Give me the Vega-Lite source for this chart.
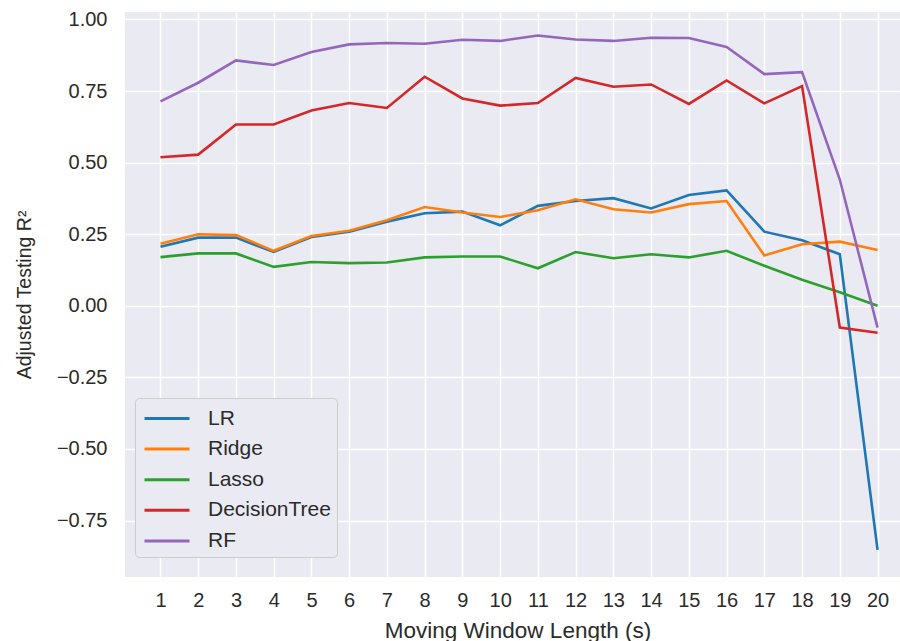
{
  "$schema": "https://vega.github.io/schema/vega-lite/v6.json",
  "autosize": {"type": "none"},
  "width": 775,
  "height": 565,
  "padding": {"left": 125, "top": 12, "right": 0, "bottom": 64},
  "background": "white",
  "config": {
    "view": {"fill": "#eaeaf2", "stroke": null},
    "font": "Liberation Sans",
    "axis": {
      "domain": false,
      "ticks": false,
      "grid": true,
      "gridColor": "white",
      "gridWidth": 1.5,
      "labelFont": "Liberation Sans",
      "labelFontSize": 20,
      "labelColor": "#2b2b2b",
      "titleFont": "Liberation Sans",
      "titleFontWeight": "normal",
      "titleColor": "#2b2b2b"
    },
    "legend": {
      "labelFont": "Liberation Sans",
      "labelFontSize": 21,
      "labelColor": "#2b2b2b"
    }
  },
  "data": {
    "values": [
      {"w": 1, "model": "LR", "r2": 0.206},
      {"w": 2, "model": "LR", "r2": 0.238},
      {"w": 3, "model": "LR", "r2": 0.238},
      {"w": 4, "model": "LR", "r2": 0.188},
      {"w": 5, "model": "LR", "r2": 0.240},
      {"w": 6, "model": "LR", "r2": 0.259},
      {"w": 7, "model": "LR", "r2": 0.294},
      {"w": 8, "model": "LR", "r2": 0.323},
      {"w": 9, "model": "LR", "r2": 0.329},
      {"w": 10, "model": "LR", "r2": 0.281},
      {"w": 11, "model": "LR", "r2": 0.349},
      {"w": 12, "model": "LR", "r2": 0.366},
      {"w": 13, "model": "LR", "r2": 0.376},
      {"w": 14, "model": "LR", "r2": 0.340},
      {"w": 15, "model": "LR", "r2": 0.387},
      {"w": 16, "model": "LR", "r2": 0.403},
      {"w": 17, "model": "LR", "r2": 0.259},
      {"w": 18, "model": "LR", "r2": 0.229},
      {"w": 19, "model": "LR", "r2": 0.180},
      {"w": 20, "model": "LR", "r2": -0.852},
      {"w": 1, "model": "Ridge", "r2": 0.217},
      {"w": 2, "model": "Ridge", "r2": 0.250},
      {"w": 3, "model": "Ridge", "r2": 0.247},
      {"w": 4, "model": "Ridge", "r2": 0.192},
      {"w": 5, "model": "Ridge", "r2": 0.244},
      {"w": 6, "model": "Ridge", "r2": 0.262},
      {"w": 7, "model": "Ridge", "r2": 0.299},
      {"w": 8, "model": "Ridge", "r2": 0.345},
      {"w": 9, "model": "Ridge", "r2": 0.326},
      {"w": 10, "model": "Ridge", "r2": 0.310},
      {"w": 11, "model": "Ridge", "r2": 0.334},
      {"w": 12, "model": "Ridge", "r2": 0.372},
      {"w": 13, "model": "Ridge", "r2": 0.337},
      {"w": 14, "model": "Ridge", "r2": 0.326},
      {"w": 15, "model": "Ridge", "r2": 0.355},
      {"w": 16, "model": "Ridge", "r2": 0.366},
      {"w": 17, "model": "Ridge", "r2": 0.176},
      {"w": 18, "model": "Ridge", "r2": 0.215},
      {"w": 19, "model": "Ridge", "r2": 0.224},
      {"w": 20, "model": "Ridge", "r2": 0.195},
      {"w": 1, "model": "Lasso", "r2": 0.170},
      {"w": 2, "model": "Lasso", "r2": 0.183},
      {"w": 3, "model": "Lasso", "r2": 0.183},
      {"w": 4, "model": "Lasso", "r2": 0.136},
      {"w": 5, "model": "Lasso", "r2": 0.153},
      {"w": 6, "model": "Lasso", "r2": 0.149},
      {"w": 7, "model": "Lasso", "r2": 0.151},
      {"w": 8, "model": "Lasso", "r2": 0.169},
      {"w": 9, "model": "Lasso", "r2": 0.172},
      {"w": 10, "model": "Lasso", "r2": 0.172},
      {"w": 11, "model": "Lasso", "r2": 0.131},
      {"w": 12, "model": "Lasso", "r2": 0.188},
      {"w": 13, "model": "Lasso", "r2": 0.166},
      {"w": 14, "model": "Lasso", "r2": 0.180},
      {"w": 15, "model": "Lasso", "r2": 0.169},
      {"w": 16, "model": "Lasso", "r2": 0.192},
      {"w": 17, "model": "Lasso", "r2": 0.140},
      {"w": 18, "model": "Lasso", "r2": 0.091},
      {"w": 19, "model": "Lasso", "r2": 0.047},
      {"w": 20, "model": "Lasso", "r2": 0.000},
      {"w": 1, "model": "DecisionTree", "r2": 0.519},
      {"w": 2, "model": "DecisionTree", "r2": 0.528},
      {"w": 3, "model": "DecisionTree", "r2": 0.633},
      {"w": 4, "model": "DecisionTree", "r2": 0.633},
      {"w": 5, "model": "DecisionTree", "r2": 0.682},
      {"w": 6, "model": "DecisionTree", "r2": 0.708},
      {"w": 7, "model": "DecisionTree", "r2": 0.691},
      {"w": 8, "model": "DecisionTree", "r2": 0.800},
      {"w": 9, "model": "DecisionTree", "r2": 0.724},
      {"w": 10, "model": "DecisionTree", "r2": 0.699},
      {"w": 11, "model": "DecisionTree", "r2": 0.708},
      {"w": 12, "model": "DecisionTree", "r2": 0.796},
      {"w": 13, "model": "DecisionTree", "r2": 0.765},
      {"w": 14, "model": "DecisionTree", "r2": 0.773},
      {"w": 15, "model": "DecisionTree", "r2": 0.705},
      {"w": 16, "model": "DecisionTree", "r2": 0.787},
      {"w": 17, "model": "DecisionTree", "r2": 0.707},
      {"w": 18, "model": "DecisionTree", "r2": 0.767},
      {"w": 19, "model": "DecisionTree", "r2": -0.076},
      {"w": 20, "model": "DecisionTree", "r2": -0.094},
      {"w": 1, "model": "RF", "r2": 0.714},
      {"w": 2, "model": "RF", "r2": 0.779},
      {"w": 3, "model": "RF", "r2": 0.857},
      {"w": 4, "model": "RF", "r2": 0.841},
      {"w": 5, "model": "RF", "r2": 0.886},
      {"w": 6, "model": "RF", "r2": 0.913},
      {"w": 7, "model": "RF", "r2": 0.918},
      {"w": 8, "model": "RF", "r2": 0.915},
      {"w": 9, "model": "RF", "r2": 0.929},
      {"w": 10, "model": "RF", "r2": 0.925},
      {"w": 11, "model": "RF", "r2": 0.944},
      {"w": 12, "model": "RF", "r2": 0.930},
      {"w": 13, "model": "RF", "r2": 0.925},
      {"w": 14, "model": "RF", "r2": 0.936},
      {"w": 15, "model": "RF", "r2": 0.935},
      {"w": 16, "model": "RF", "r2": 0.904},
      {"w": 17, "model": "RF", "r2": 0.809},
      {"w": 18, "model": "RF", "r2": 0.816},
      {"w": 19, "model": "RF", "r2": 0.441},
      {"w": 20, "model": "RF", "r2": -0.076}
    ]
  },
  "mark": {"type": "line", "strokeWidth": 2.6},
  "encoding": {
    "x": {
      "field": "w",
      "type": "quantitative",
      "scale": {"domain": [0.06, 20.595], "nice": false, "zero": false},
      "axis": {
        "title": "Moving Window Length (s)",
        "titleFontSize": 22.5,
        "titleX": 392.5,
        "values": [1,2,3,4,5,6,7,8,9,10,11,12,13,14,15,16,17,18,19,20],
        "format": "d",
        "labelPadding": 13,
        "titlePadding": 9
      }
    },
    "y": {
      "field": "r2",
      "type": "quantitative",
      "scale": {"domain": [-0.947, 1.026], "nice": false, "zero": false},
      "axis": {
        "title": "Adjusted Testing R²",
        "titleFontSize": 19.5,
        "values": [-0.75, -0.5, -0.25, 0, 0.25, 0.5, 0.75, 1.0],
        "format": ".2f",
        "labelPadding": 18,
        "titlePadding": 22
      }
    },
    "color": {
      "field": "model",
      "type": "nominal",
      "sort": ["LR", "Ridge", "Lasso", "DecisionTree", "RF"],
      "scale": {
        "domain": ["LR", "Ridge", "Lasso", "DecisionTree", "RF"],
        "range": ["#1f77b4", "#ff7f0e", "#2ca02c", "#d62728", "#9467bd"]
      },
      "legend": {
        "title": null,
        "orient": "none",
        "legendX": 10,
        "legendY": 386,
        "symbolType": "M-0.846,0H2.615",
        "symbolSize": 676,
        "symbolStrokeWidth": 3,
        "symbolFillColor": "transparent",
        "rowPadding": 5.6,
        "labelOffset": 38,
        "padding": 6,
        "fillColor": "#eaeaf2",
        "strokeColor": "#cccccc",
        "cornerRadius": 4,
        "labelLimit": 300
      }
    }
  }
}
